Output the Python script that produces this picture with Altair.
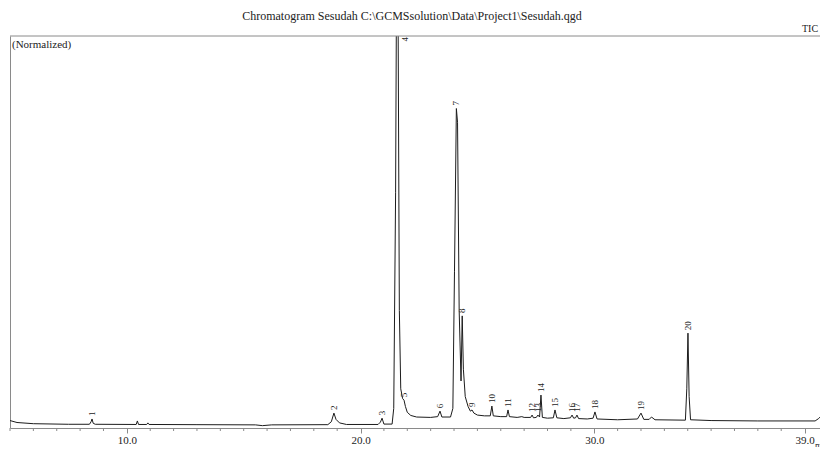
import altair as alt
import pandas as pd

# ---- data ----
trace_time = [5.0, 5.3, 6.0, 7.5, 8.4, 8.47, 8.51, 8.56, 8.65, 10.4, 10.45, 10.5, 10.85, 10.9, 10.95,
              13.0, 15.5, 15.8, 16.2, 18.6, 18.75, 18.86, 18.95, 19.1, 19.4, 20.75, 20.85, 20.92, 21.0,
              21.35, 21.42, 21.5, 21.54, 21.6, 21.66, 21.72, 21.8, 21.86, 21.92, 22.0, 22.15, 22.4,
              23.0, 23.3, 23.4, 23.48, 23.85, 23.95, 24.02, 24.1, 24.15, 24.22, 24.3, 24.35, 24.4,
              24.48, 24.6, 24.7, 24.77, 24.85, 25.0, 25.3, 25.55, 25.62, 25.68, 26.0, 26.25, 26.31,
              26.37, 26.7, 26.9, 27.0, 27.28, 27.34, 27.4, 27.52, 27.59, 27.66, 27.72, 27.78, 28.0,
              28.25, 28.32, 28.4, 28.7, 28.98, 29.05, 29.12, 29.2, 29.26, 29.33, 29.7, 29.95, 30.03,
              30.12, 31.0, 31.85, 32.0, 32.12, 32.35, 32.45, 32.6, 33.9, 33.96, 34.01, 34.06, 34.12,
              35.0, 37.0, 39.45, 39.6, 39.7]
trace_intensity = [1.9, 1.4, 1.1, 0.95, 0.95, 1.6, 2.3, 1.2, 0.95, 0.9, 1.8, 0.9, 0.9, 1.3, 0.9,
                   0.85, 0.8, 0.6, 0.8, 0.85, 1.6, 3.8, 2.2, 1.3, 0.9, 0.9, 1.5, 2.5, 1.0,
                   1.0, 5.0, 60.0, 115.0, 115.0, 30.0, 10.0, 7.5, 7.1, 5.5, 4.0, 3.2, 2.8,
                   2.7, 2.9, 4.3, 2.8, 2.8, 5.0, 40.0, 81.5, 78.0, 30.0, 12.0, 28.6, 15.0,
                   8.0, 5.5, 4.3, 4.6, 3.8, 3.3, 3.1, 3.1, 5.6, 3.1, 2.9, 2.9, 4.6,
                   2.9, 2.7, 2.9, 2.7, 2.7, 3.3, 2.6, 2.7, 3.3, 2.8, 8.4, 2.7, 2.5,
                   2.6, 4.6, 2.6, 2.4, 2.6, 3.3, 2.5, 2.6, 3.3, 2.4, 2.3, 2.5, 4.1,
                   2.3, 2.1, 2.3, 3.8, 2.2, 2.2, 2.8, 2.1, 2.0, 10.0, 24.2, 8.0, 2.1,
                   1.9, 1.8, 1.8, 2.4, 3.0]

peak_ids = ["1", "2", "3", "5", "6", "7", "8", "9", "10", "11", "12", "13", "14", "15",
            "16", "17", "18", "19", "20"]
peak_times = [8.51, 18.86, 20.92, 21.86, 23.4, 24.1, 24.35, 24.77, 25.62, 26.31, 27.34, 27.59,
              27.72, 28.32, 29.05, 29.26, 30.03, 32.0, 34.01]
peak_heights = [2.3, 3.8, 2.5, 7.1, 4.3, 81.5, 28.6, 4.6, 5.6, 4.6, 3.3, 3.3, 8.4, 4.6, 3.3,
                3.3, 4.1, 3.8, 24.2]
top_peak_id = ["4"]
top_peak_time = [21.56]

major_ticks = [10.0, 20.0, 30.0, 39.0]
minor_ticks = [5, 6, 7, 8, 9, 11, 12, 13, 14, 15, 16, 17, 18, 19, 21, 22, 23, 24, 25, 26, 27,
               28, 29, 31, 32, 33, 34, 35, 36, 37, 38]

title_text = "Chromatogram Sesudah C:\\GCMSsolution\\Data\\Project1\\Sesudah.qgd"

W, H = 810, 392
X_END = 5 + W / 23.37
SERIF = "Liberation Serif"
FRAME = "#8a8a8a"

trace_df = pd.DataFrame({"time": trace_time, "intensity": trace_intensity})
peaks_df = pd.DataFrame({"id": peak_ids, "time": peak_times, "h": peak_heights})
top_df = pd.DataFrame({"id": top_peak_id, "time": top_peak_time})
minor_df = pd.DataFrame({"t": minor_ticks})

x_scale = alt.Scale(domain=[5, X_END], nice=False, zero=False)
y_scale = alt.Scale(domain=[0, 100], nice=False, zero=True)

trace = alt.Chart(trace_df).mark_line(color="#1c1c1c", strokeWidth=1, clip=True).encode(
    x=alt.X("time:Q", scale=x_scale,
            axis=alt.Axis(values=major_ticks, format=".1f", title=None, grid=False, tickSize=5,
                          labelFont=SERIF, labelFontSize=11, labelColor="#222", labelPadding=1,
                          domainColor=FRAME, tickColor=FRAME, labelFlush=False)),
    y=alt.Y("intensity:Q", scale=y_scale,
            axis=alt.Axis(title=None, labels=False, ticks=False, grid=False, domainColor=FRAME)),
    order="time:Q",
)

minor = alt.Chart(minor_df).mark_rule(color=FRAME, strokeWidth=1).encode(
    x=alt.X("t:Q", scale=x_scale),
    y=alt.value(H), y2=alt.value(H + 3),
)

top_line = alt.Chart(pd.DataFrame({"a": [0]})).mark_rule(color=FRAME, strokeWidth=1).encode(
    x=alt.value(0), x2=alt.value(W), y=alt.value(0)
)

labels = alt.Chart(peaks_df).mark_text(angle=270, align="left", baseline="middle", dx=3,
                                       font=SERIF, fontSize=9, color="#222").encode(
    x=alt.X("time:Q", scale=x_scale),
    y=alt.Y("h:Q", scale=y_scale),
    text="id:N",
)

top_label = alt.Chart(top_df).mark_text(angle=270, align="right", baseline="middle", dx=-1, dy=8,
                                        font=SERIF, fontSize=9, color="#222").encode(
    x=alt.X("time:Q", scale=x_scale),
    y=alt.value(0),
    text="id:N",
)

def txt(s, x, y, align="left", size=11, baseline="middle"):
    return alt.Chart(pd.DataFrame({"s": [s]})).mark_text(
        align=align, baseline=baseline, font=SERIF, fontSize=size, color="#222"
    ).encode(x=alt.value(x), y=alt.value(y), text="s:N")

title = txt(title_text, 402, -20, align="center", size=12)
norm = txt("(Normalized)", 2, 9)
tic = txt("TIC", 792, -7, size=10)
mins = txt("min", 805, H + 13, size=9, baseline="top")

chart = alt.layer(trace, minor, top_line, labels, top_label, title, norm, tic, mins).properties(
    width=W, height=H,
    autosize=alt.AutoSizeParams(type="none"),
    padding={"left": 2, "top": 28, "right": 0, "bottom": 19},
    background="white",
).configure_view(stroke=None)

chart.save("out.html", embed_options={"renderer": "svg", "actions": False})
